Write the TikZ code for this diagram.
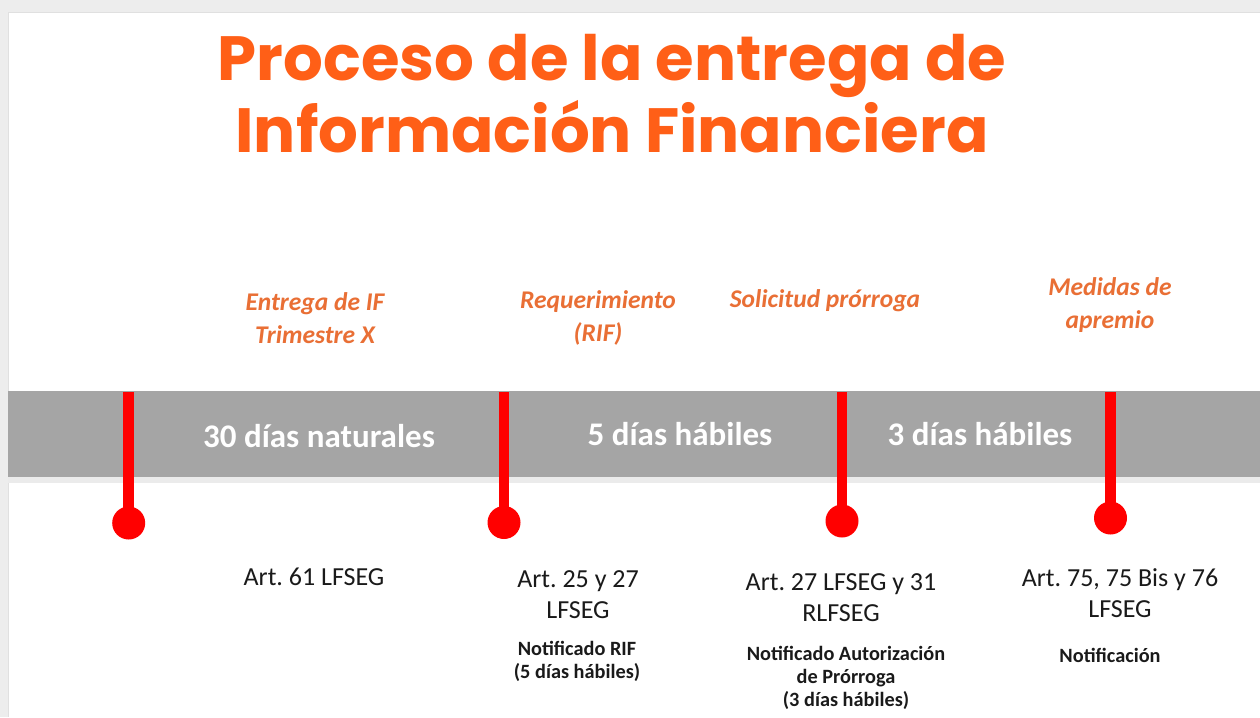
\documentclass[tikz,border=0pt]{standalone}
\usepackage{fontspec}
\setmainfont{Carlito}
\newfontfamily\titlefont{Poppins}
\frenchspacing
\definecolor{titleorange}{HTML}{FF5F17}
\definecolor{labelorange}{HTML}{E96F35}
\definecolor{bandgray}{HTML}{A5A5A5}
\definecolor{pinred}{HTML}{FF0000}
\definecolor{framegray}{HTML}{EDEDED}
\definecolor{textblack}{HTML}{1A1A1A}
\tikzset{
  titletext/.style={anchor=base, inner sep=0pt, text=titleorange, font=\titlefont\bfseries\fontsize{62.5}{72}\selectfont},
  eventlabel/.style={anchor=base, inner sep=0pt, align=center, text=labelorange, font=\bfseries\itshape\fontsize{25.5}{33}\selectfont},
  bandtext/.style={anchor=base, inner sep=0pt, text=white, font=\bfseries\fontsize{33}{36}\selectfont},
  arttext/.style={anchor=base, inner sep=0pt, align=center, text=textblack, font=\fontsize{26}{31}\selectfont},
  notetext/.style={anchor=base, inner sep=0pt, align=center, text=textblack, font=\bfseries\fontsize{20.3}{23}\selectfont},
  pinhead/.style={circle, fill=pinred, minimum size=33pt, inner sep=0pt},
  pinline/.style={draw=pinred, line width=10.5pt},
}
\begin{document}
\begin{tikzpicture}[x=1pt,y=-1pt]
\useasboundingbox (0,0) rectangle (1260,717);
% frame
\fill[framegray] (0,0) rectangle (1260,717);
\fill[white] (8,13) rectangle (1260,717);
\draw[black!12, line width=1pt] (8,13) -- (1260,13);
\draw[black!12, line width=1pt] (8,13) -- (8,717);
% title
\node[titletext] (title1) at (612,80) {Proceso de la entrega de};
\node[titletext] (title2) at (612,152) {Información Financiera};
% band
\fill[black!8] (8,477) rectangle (1260,483);
\fill[bandgray] (8,391) rectangle (1260,477);
\node[bandtext] (b1) at (319,447) {30 días naturales};
\node[bandtext] (b2) at (680,445) {5 días hábiles};
\node[bandtext] (b3) at (980,445) {3 días hábiles};
% pins
\coordinate (t1) at (128.7,392);
\coordinate (t2) at (504,392);
\coordinate (t3) at (842,392);
\coordinate (t4) at (1110.5,392);
\node[pinhead] (p1) at (128.7,523) {};
\node[pinhead] (p2) at (504,522.5) {};
\node[pinhead] (p3) at (842,521) {};
\node[pinhead] (p4) at (1110.5,518) {};
\draw[pinline] (t1) -- (p1.center);
\draw[pinline] (t2) -- (p2.center);
\draw[pinline] (t3) -- (p3.center);
\draw[pinline] (t4) -- (p4.center);
% event labels (base = baseline of last line)
\node[eventlabel] (e1) at (315,343) {Entrega de IF\\Trimestre X};
\node[eventlabel] (e2) at (598,341) {Requerimiento\\(RIF)};
\node[eventlabel] (e3) at (825,307) {Solicitud prórroga};
\node[eventlabel] (e4) at (1110,328) {Medidas de\\apremio};
% articles
\node[arttext] (a1) at (314,585) {Art. 61 LFSEG};
\node[arttext] (a2) at (578,618) {Art. 25 y 27\\LFSEG};
\node[arttext] (a3) at (841,621) {Art. 27 LFSEG y 31\\RLFSEG};
\node[arttext] (a4) at (1120,617) {Art. 75, 75 Bis y 76\\LFSEG};
% notes
\node[notetext] (n2) at (577,678) {Notificado RIF\\(5 días hábiles)};
\node[notetext] (n3) at (846,706) {Notificado Autorización\\de Prórroga\\(3 días hábiles)};
\node[notetext] (n4) at (1110,662) {Notificación};
\end{tikzpicture}
\end{document}
